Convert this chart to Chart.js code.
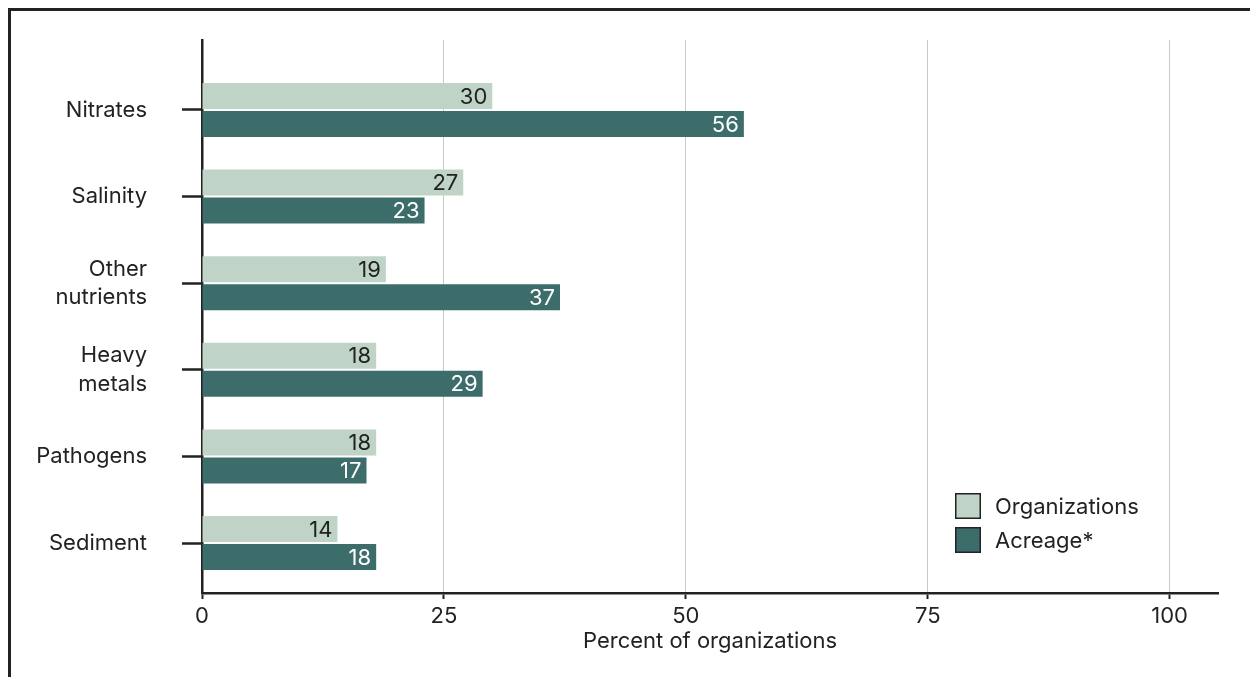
<!DOCTYPE html>
<html>
<head>
<meta charset="utf-8">
<script src="https://cdn.jsdelivr.net/npm/chart.js@4.4.1/dist/chart.umd.min.js"></script>
<style>
    html, body { margin: 0; padding: 0; background: #fff; overflow: hidden; }
    #frame {
        position: absolute; left: 8px; top: 8px; width: 1400px; height: 800px;
        border-top: 3px solid #222; border-left: 3px solid #222;
    }
    #wrap { position: absolute; left: 0; top: 0; width: 1250px; height: 677px; }
</style>
</head>
<body>
<div id="frame"></div>
<div id="wrap"><canvas id="chart" width="1250" height="677"></canvas></div>
<script>
const categories = ['Nitrates', 'Salinity', ['Other', 'nutrients'], ['Heavy', 'metals'], 'Pathogens', 'Sediment'];
const organizations = [30, 27, 19, 18, 18, 14];
const acreage = [56, 23, 37, 29, 17, 18];
const seriesNames = ['Organizations', 'Acreage*'];
const xTicks = [0, 25, 50, 75, 100];

const LIGHT = '#bfd4c6';
const DARK = '#3c6d6a';
const INK = '#222222';
const FONT = 'Inter, "Noto Sans", sans-serif';
const FONT_SIZE = 22;

// value labels inside the end of each bar
const barLabels = {
    id: 'barLabels',
    afterDatasetsDraw(chart) {
        const ctx = chart.ctx;
        ctx.save();
        ctx.font = FONT_SIZE + 'px ' + FONT;
        ctx.textAlign = 'right';
        ctx.textBaseline = 'middle';
        chart.data.datasets.forEach((ds, di) => {
            const meta = chart.getDatasetMeta(di);
            meta.data.forEach((bar, i) => {
                ctx.fillStyle = di === 0 ? INK : '#ffffff';
                ctx.fillText(String(ds.data[i].x), bar.x - 5, bar.y + 1);
            });
        });
        ctx.restore();
    }
};

// legend box in the lower right of the plot
const cornerLegend = {
    id: 'cornerLegend',
    afterDraw(chart) {
        const ctx = chart.ctx;
        const x = 955, y0 = 493, size = 26, step = 34;
        ctx.save();
        ctx.font = FONT_SIZE + 'px ' + FONT;
        ctx.textBaseline = 'middle';
        ctx.textAlign = 'left';
        chart.data.datasets.forEach((ds, i) => {
            const y = y0 + i * step;
            ctx.fillStyle = ds.backgroundColor;
            ctx.fillRect(x, y, size, size);
            ctx.strokeStyle = INK;
            ctx.lineWidth = 1.5;
            ctx.strokeRect(x + 0.75, y + 0.75, size - 1.5, size - 1.5);
            ctx.fillStyle = INK;
            ctx.fillText(ds.label, x + 40, y + size / 2 + 1);
        });
        ctx.restore();
    }
};

const toPoints = values => values.map((v, i) => ({ x: v, y: i }));

new Chart(document.getElementById('chart'), {
    type: 'bar',
    data: {
        datasets: [
            { label: seriesNames[0], data: toPoints(organizations), backgroundColor: LIGHT },
            { label: seriesNames[1], data: toPoints(acreage), backgroundColor: DARK }
        ]
    },
    options: {
        indexAxis: 'y',
        responsive: false,
        animation: false,
        categoryPercentage: 0.647,
        barPercentage: 0.929,
        layout: { padding: { top: 40, right: 32, left: 0, bottom: 22 } },
        plugins: { legend: { display: false }, tooltip: { enabled: false } },
        scales: {
            x: {
                type: 'linear',
                min: 0,
                max: 105,
                afterFit: s => { s.height = 62; },
                afterBuildTicks: s => { s.ticks = xTicks.map(v => ({ value: v })); },
                ticks: { color: INK, font: { family: FONT, size: FONT_SIZE }, padding: 4 },
                grid: { color: '#c8c8c8', lineWidth: 1, tickColor: INK, tickLength: 6, tickWidth: 2 },
                border: { color: INK, width: 2.5 },
                title: {
                    display: true,
                    text: 'Percent of organizations',
                    color: INK,
                    font: { family: FONT, size: FONT_SIZE },
                    padding: { top: 0, bottom: 0 }
                }
            },
            y: {
                type: 'linear',
                reverse: true,
                offset: false,
                min: -0.808,
                max: 5.577,
                afterFit: s => {
                    s.width = 202;
                    s.paddingTop = 0;
                    s.paddingBottom = 0;
                },
                afterBuildTicks: s => { s.ticks = categories.map((c, i) => ({ value: i })); },
                ticks: {
                    autoSkip: false,
                    color: INK,
                    font: { family: FONT, size: FONT_SIZE, lineHeight: 1.3 },
                    padding: 35,
                    callback: v => categories[v]
                },
                grid: { offset: false, drawOnChartArea: false, tickColor: INK, tickLength: 20, tickWidth: 2.5 },
                border: { color: INK, width: 2.5 }
            }
        }
    },
    plugins: [barLabels, cornerLegend]
});
</script>
</body>
</html>
